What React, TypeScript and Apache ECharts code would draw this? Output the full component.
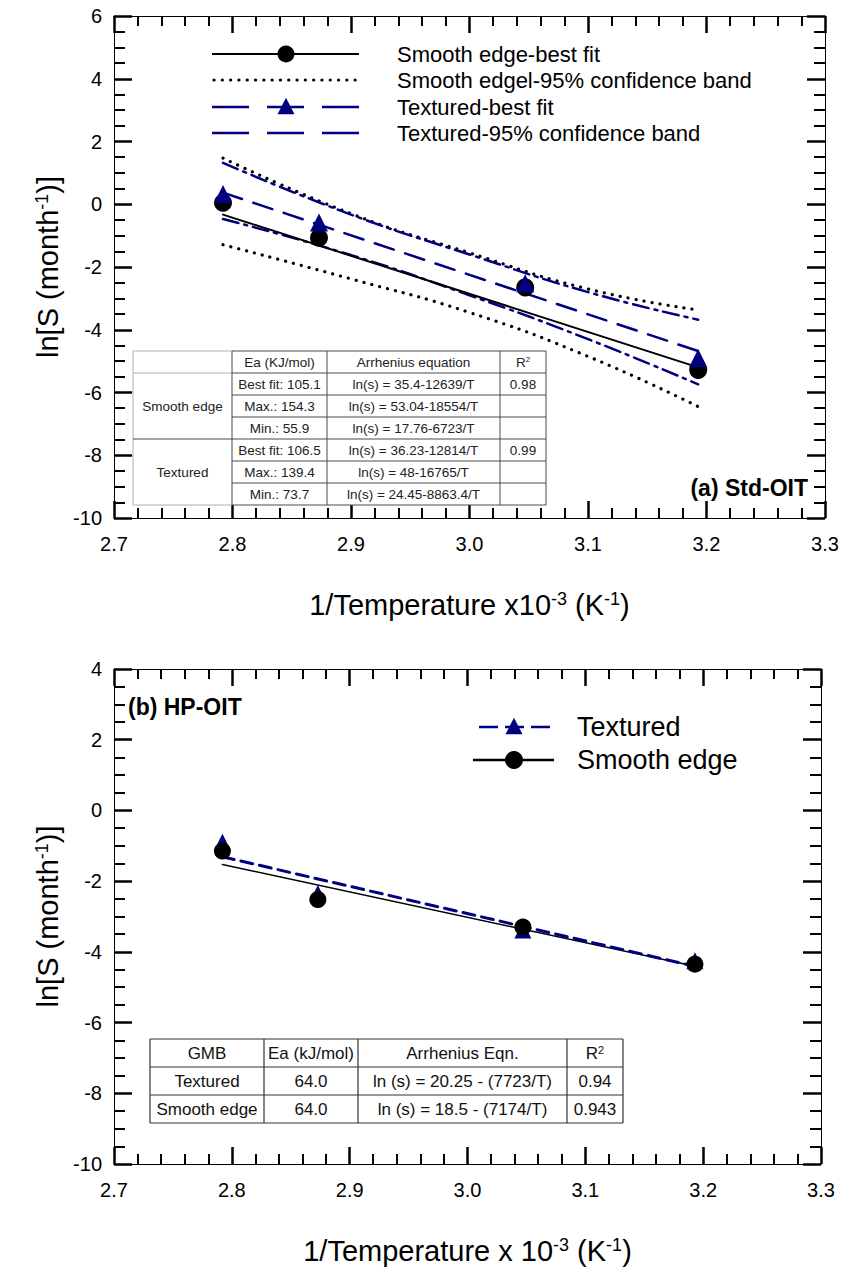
import React, { useEffect, useRef } from "react";
import * as echarts from "echarts";

const FONT = "'Liberation Sans', Arial, Helvetica, sans-serif";
const NAVY = "#000080";

// 1/T x10^-3 (K^-1) for the four ageing temperatures
const xPoints = [2.792, 2.873, 3.047, 3.193];
const fitX = [2.792, 3.193];
const bandX = [2.792, 2.9, 3.0, 3.1, 3.193];

// (a) Std-OIT
const aSmoothPoints = [0.05, -1.07, -2.65, -5.28];
const aTexturedPoints = [0.33, -0.58, -2.52, -4.9];
const aSmoothFit = [-0.33, -5.2];
const aTexturedFit = [0.37, -4.68];
const aSmoothUpper = [1.47, -0.3, -1.55, -2.7, -3.37];
const aSmoothLower = [-1.29, -2.38, -3.45, -4.85, -6.45];
const aTexturedUpper = [1.32, -0.33, -1.6, -2.8, -3.68];
const aTexturedLower = [-0.47, -1.62, -2.9, -4.3, -5.74];

// (b) HP-OIT
const bSmoothPoints = [-1.15, -2.52, -3.3, -4.35];
const bTexturedPoints = [-0.9, -2.35, -3.38, -4.25];
const bSmoothFit = [-1.53, -4.41];
const bTexturedFit = [-1.31, -4.41];

// legends
const aLegend = [
  "Smooth edge-best fit",
  "Smooth edgel-95% confidence band",
  "Textured-best fit",
  "Textured-95% confidence band",
];
const bLegend = ["Textured", "Smooth edge"];

// tables
const aTableHeader = ["", "Ea (KJ/mol)", "Arrhenius equation", "R{sup|2}"];
const aTableGroups = ["Smooth edge", "Textured"];
const aTableEa = ["Best fit: 105.1", "Max.: 154.3", "Min.: 55.9", "Best fit: 106.5", "Max.: 139.4", "Min.: 73.7"];
const aTableEq = [
  "ln(s) = 35.4-12639/T",
  "ln(s) = 53.04-18554/T",
  "ln(s) = 17.76-6723/T",
  "ln(s) = 36.23-12814/T",
  "ln(s) = 48-16765/T",
  "ln(s) = 24.45-8863.4/T",
];
const aTableR2 = ["0.98", "", "", "0.99", "", ""];

const bTableHeader = ["GMB", "Ea (kJ/mol)", "Arrhenius Eqn.", "R{sup|2}"];
const bTableRows = [
  ["Textured", "64.0", "ln (s) = 20.25 - (7723/T)", "0.94"],
  ["Smooth edge", "64.0", "ln (s) = 18.5 - (7174/T)", "0.943"],
];

const zip = (xs: number[], ys: number[]) => xs.map((x, i) => [x, ys[i]]);

const AXIS_W = 1;

function xAxis(gridIndex: number, position: "bottom" | "top", name: string) {
  const bottom = position === "bottom";
  return {
    type: "value",
    gridIndex,
    position,
    min: 2.7,
    max: 3.3,
    interval: 0.1,
    axisLine: { show: true, onZero: false, lineStyle: { color: "#000", width: AXIS_W } },
    axisTick: { show: true, inside: true, length: 17, lineStyle: { color: "#000", width: 2.5 } },
    minorTick: { show: true, splitNumber: 5, length: 10, lineStyle: { color: "#000", width: 2 } },
    splitLine: { show: false },
    axisLabel: {
      show: bottom,
      formatter: (v: number) => v.toFixed(1),
      fontSize: 20,
      fontFamily: FONT,
      color: "#000",
      margin: 16,
    },
    name: bottom ? name : "",
    nameLocation: "middle",
    nameGap: 72,
    nameTextStyle: {
      fontSize: 29,
      fontFamily: FONT,
      color: "#000",
      rich: { sup: { fontSize: 18, fontFamily: FONT, color: "#000", verticalAlign: "top", lineHeight: 12 } },
    },
  };
}

function yAxis(gridIndex: number, position: "left" | "right", min: number, max: number, name: string) {
  const left = position === "left";
  return {
    type: "value",
    gridIndex,
    position,
    min,
    max,
    interval: 2,
    axisLine: { show: true, onZero: false, lineStyle: { color: "#000", width: AXIS_W } },
    axisTick: { show: true, inside: true, length: 18, lineStyle: { color: "#000", width: 2.5 } },
    minorTick: { show: true, splitNumber: 4, length: 11, lineStyle: { color: "#000", width: 2 } },
    splitLine: { show: false },
    axisLabel: { show: left, fontSize: 20, fontFamily: FONT, color: "#000", margin: 12 },
    name: left ? name : "",
    nameLocation: "middle",
    nameRotate: 90,
    nameGap: 50,
    nameTextStyle: {
      fontSize: 29,
      fontFamily: FONT,
      color: "#000",
      rich: { sup: { fontSize: 18, fontFamily: FONT, color: "#000", verticalAlign: "top", lineHeight: 12 } },
    },
  };
}

function lineSeries(xi: number, data: number[][], color: string, width: number, type: any, smooth = false) {
  return {
    type: "line",
    xAxisIndex: xi,
    yAxisIndex: xi,
    data,
    symbol: "none",
    smooth,
    lineStyle: { color, width, type, cap: "round" },
    z: 2,
  };
}

function scatterSeries(xi: number, data: number[][], symbol: string, color: string, size: number, z: number) {
  return {
    type: "scatter",
    xAxisIndex: xi,
    yAxisIndex: xi,
    data,
    symbol,
    symbolSize: size,
    itemStyle: { color, opacity: 1 },
    z,
  };
}

// ---------- graphic helpers ----------
const txt = (x: number, y: number, text: string, fontSize: number, opts: any = {}) => ({
  type: "text",
  x,
  y,
  z: 100,
  style: {
    text,
    fill: opts.fill || "#000",
    fontSize,
    fontFamily: FONT,
    fontWeight: opts.bold ? "bold" : "normal",
    align: opts.align || "left",
    verticalAlign: "middle",
    rich: {
      sup: { fontSize: Math.round(fontSize * 0.62), fontFamily: FONT, fill: opts.fill || "#000", verticalAlign: "top", lineHeight: Math.round(fontSize * 0.45) },
    },
  },
});
const seg = (x1: number, y1: number, x2: number, y2: number, stroke: string, lineWidth: number, lineDash?: number[]) => ({
  type: "line",
  z: 100,
  shape: { x1, y1, x2, y2 },
  style: { stroke, lineWidth, lineDash: lineDash || null, lineCap: lineDash && lineDash[0] < 1 ? "round" : "butt" },
});
const dot = (cx: number, cy: number, r: number, fill: string) => ({
  type: "circle",
  z: 101,
  shape: { cx, cy, r },
  style: { fill },
});
const tri = (cx: number, cy: number, s: number, fill: string) => ({
  type: "polygon",
  z: 101,
  shape: { points: [[cx, cy - s * 0.55], [cx - s * 0.5, cy + s * 0.42], [cx + s * 0.5, cy + s * 0.42]] },
  style: { fill },
});

function legendA() {
  const rows = [54, 80, 107, 133];
  const x1 = 212, x2 = 359, xs = 286, xt = 397;
  const els: any[] = [];
  els.push(seg(x1, rows[0], x2, rows[0], "#000", 2));
  els.push(dot(xs, rows[0], 8.5, "#000"));
  els.push(seg(x1 + 2, rows[1], x2, rows[1], "#000", 3.2, [0.1, 8.2]));
  els.push(seg(x1, rows[2], x2, rows[2], NAVY, 2.5, [37, 18]));
  els.push(tri(xs, rows[2], 17, NAVY));
  els.push(seg(x1, rows[3], x2, rows[3], NAVY, 2.5, [37, 18]));
  aLegend.forEach((t, i) => els.push(txt(xt, rows[i], t, 22)));
  return els;
}

function legendB() {
  const rows = [727, 760];
  const els: any[] = [];
  els.push(seg(479, rows[0], 551, rows[0], NAVY, 2.5, [19, 7]));
  els.push(tri(514, rows[0], 17, NAVY));
  els.push(seg(473, rows[1], 554, rows[1], "#000", 2.5));
  els.push(dot(514, rows[1], 9, "#000"));
  bLegend.forEach((t, i) => els.push(txt(577, rows[i], t, 27)));
  return els;
}

function tableA() {
  const cols = [133, 232, 327, 500, 546];
  const top = 351, rh = 22, n = 7;
  const bottom = top + rh * n;
  const dark = "#4a4a4a", light = "#b0b0b0";
  const els: any[] = [];
  els.push({ type: "rect", z: 99, shape: { x: cols[0], y: top, width: cols[4] - cols[0], height: bottom - top }, style: { fill: "#fff", stroke: null } });
  els.push(seg(cols[0], top, cols[1], top, light, 1));
  els.push(seg(cols[0], bottom, cols[1], bottom, light, 1));
  els.push(seg(cols[0], top, cols[0], bottom, light, 1));
  els.push(seg(cols[0], top + rh, cols[1], top + rh, light, 1));
  els.push(seg(cols[0], top + rh * 4, cols[1], top + rh * 4, dark, 1));
  for (let i = 0; i <= n; i++) els.push(seg(cols[1], top + rh * i, cols[4], top + rh * i, dark, 1));
  for (let c = 1; c <= 4; c++) els.push(seg(cols[c], top, cols[c], bottom, dark, 1));
  const cx = (c: number) => (cols[c] + cols[c + 1]) / 2;
  const cy = (r: number) => top + rh * (r + 0.5);
  const fs = 13.5, fill = "#222";
  aTableHeader.forEach((t, c) => t && els.push(txt(cx(c), cy(0), t, fs, { align: "center", fill })));
  aTableGroups.forEach((g, gi) => els.push(txt(cx(0), top + rh * (1 + gi * 3) + rh * 1.5, g, fs, { align: "center", fill })));
  aTableEa.forEach((t, r) => els.push(txt(cx(1), cy(r + 1), t, fs, { align: "center", fill })));
  aTableEq.forEach((t, r) => els.push(txt(cx(2), cy(r + 1), t, fs, { align: "center", fill })));
  aTableR2.forEach((t, r) => t && els.push(txt(cx(3), cy(r + 1), t, fs, { align: "center", fill })));
  return els;
}

function tableB() {
  const cols = [150, 264, 358, 567, 623];
  const top = 1039, rh = 28, n = 3;
  const bottom = top + rh * n;
  const stroke = "#333";
  const els: any[] = [];
  els.push({ type: "rect", z: 99, shape: { x: cols[0], y: top, width: cols[4] - cols[0], height: bottom - top }, style: { fill: "#fff", stroke: null } });
  for (let i = 0; i <= n; i++) els.push(seg(cols[0], top + rh * i, cols[4], top + rh * i, stroke, 1.2));
  for (let c = 0; c <= 4; c++) els.push(seg(cols[c], top, cols[c], bottom, stroke, 1.2));
  const cx = (c: number) => (cols[c] + cols[c + 1]) / 2;
  const cy = (r: number) => top + rh * (r + 0.5);
  const fs = 17, fill = "#111";
  bTableHeader.forEach((t, c) => els.push(txt(cx(c), cy(0), t, fs, { align: "center", fill })));
  bTableRows.forEach((row, r) => row.forEach((t, c) => els.push(txt(cx(c), cy(r + 1), t, fs, { align: "center", fill }))));
  return els;
}

function buildOption() {
  const series: any[] = [
    lineSeries(0, zip(bandX, aSmoothUpper), "#000", 3.2, [0.1, 8], true),
    lineSeries(0, zip(bandX, aSmoothLower), "#000", 3.2, [0.1, 8], true),
    lineSeries(0, zip(bandX, aTexturedUpper), NAVY, 2.5, [16, 6, 3, 6], true),
    lineSeries(0, zip(bandX, aTexturedLower), NAVY, 2.5, [16, 6, 3, 6], true),
    lineSeries(0, zip(fitX, aSmoothFit), "#000", 2, "solid"),
    lineSeries(0, zip(fitX, aTexturedFit), NAVY, 2.5, [20, 12]),
    scatterSeries(0, zip(xPoints, aSmoothPoints), "circle", "#000", 18, 5),
    scatterSeries(0, zip(xPoints, aTexturedPoints), "triangle", NAVY, 18, 6),
    lineSeries(1, zip(fitX, bSmoothFit), "#000", 1.5, "solid"),
    lineSeries(1, zip(fitX, bTexturedFit), NAVY, 3, [12, 7]),
    scatterSeries(1, zip(xPoints, bTexturedPoints), "triangle", NAVY, 17, 5),
    scatterSeries(1, zip(xPoints, bSmoothPoints), "circle", "#000", 17, 6),
  ];

  return {
    animation: false,
    backgroundColor: "#fff",
    textStyle: { fontFamily: FONT },
    grid: [
      { left: 114, top: 16, width: 711, height: 502 },
      { left: 114, top: 669, width: 707, height: 495 },
    ],
    xAxis: [
      xAxis(0, "bottom", "1/Temperature x10{sup|-3} (K{sup|-1})"),
      xAxis(1, "bottom", "1/Temperature x 10{sup|-3} (K{sup|-1})"),
      xAxis(0, "top", ""),
      xAxis(1, "top", ""),
    ],
    yAxis: [
      yAxis(0, "left", -10, 6, "ln[S (month{sup|-1})]"),
      yAxis(1, "left", -10, 4, "ln[S (month{sup|-1})]"),
      yAxis(0, "right", -10, 6, ""),
      yAxis(1, "right", -10, 4, ""),
    ],
    series,
    graphic: {
      elements: [
        ...legendA(),
        ...legendB(),
        ...tableA(),
        ...tableB(),
        txt(808, 488, "(a) Std-OIT", 23, { align: "right", bold: true }),
        txt(128, 707, "(b) HP-OIT", 23, { bold: true }),
      ],
    },
  };
}

export default function App() {
  const ref = useRef<HTMLDivElement>(null);
  useEffect(() => {
    document.body.style.margin = "0";
    const chart = echarts.init(ref.current as HTMLDivElement, null, { renderer: "svg" });
    chart.setOption(buildOption() as any);
    return () => chart.dispose();
  }, []);
  return <div ref={ref} style={{ width: 842, height: 1268 }} />;
}
